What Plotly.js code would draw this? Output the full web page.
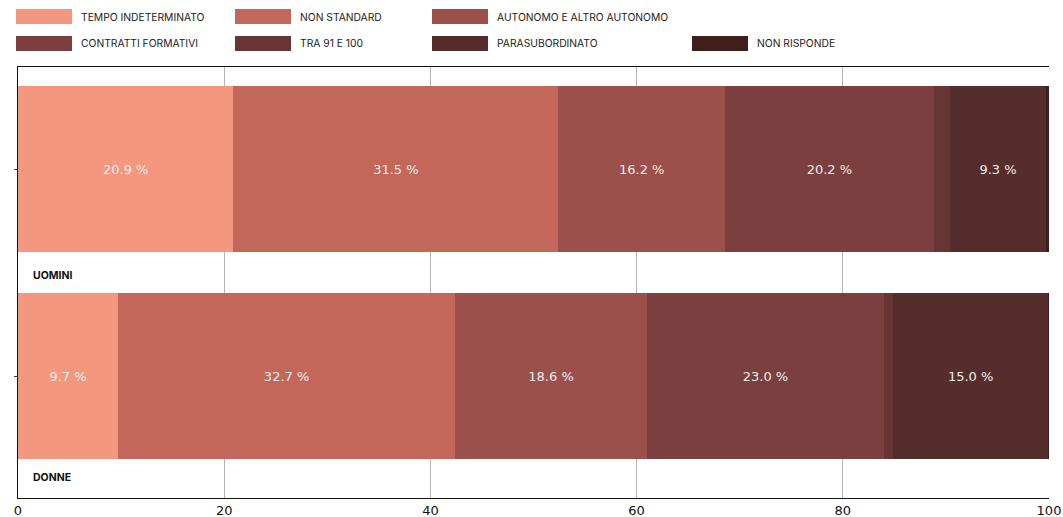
<!DOCTYPE html>
<html>
<head>
<meta charset="utf-8">
<script src="https://cdn.plot.ly/plotly-3.0.1.min.js"></script>
<style>html,body{margin:0;padding:0;background:#fff;}#chart{width:1063px;height:517px;}</style>
</head>
<body>
<div id="chart"></div>
<script>
// ---- data ----
var categories = ['UOMINI', 'DONNE'];
var seriesNames = ['TEMPO INDETERMINATO', 'NON STANDARD', 'AUTONOMO E ALTRO AUTONOMO',
  'CONTRATTI FORMATIVI', 'TRA 91 E 100', 'PARASUBORDINATO', 'NON RISPONDE'];
var tempoIndeterminato = [20.9, 9.7];
var nonStandard = [31.5, 32.7];
var autonomo = [16.2, 18.6];
var contrattiFormativi = [20.2, 23.0];
var tra91e100 = [1.6, 0.9];
var parasubordinato = [9.3, 15.0];
var nonRisponde = [0.3, 0.1];
var xTicks = [0, 20, 40, 60, 80, 100];

// ---- styles ----
var colors = ['#f3987f', '#c3675b', '#9b504c', '#7b3f3f', '#683535', '#552d2c', '#3e1f1b'];
var showLabel = [true, true, true, true, false, true, false];
var seriesValues = [tempoIndeterminato, nonStandard, autonomo, contrattiFormativi, tra91e100, parasubordinato, nonRisponde];

var W = 1063, H = 517;
var M = {l: 18, r: 14, t: 67, b: 19};
var pw = W - M.l - M.r, ph = H - M.t - M.b;
function px2x(px) { return (px - M.l) / pw; }
function py2y(py) { return (H - M.b - py) / ph; }

var traces = seriesNames.map(function (name, i) {
  return {
    type: 'bar',
    orientation: 'h',
    name: name,
    y: categories,
    x: seriesValues[i],
    width: 0.8,
    marker: {color: colors[i], line: {width: 0}},
    texttemplate: '%{x:.1f} %',
    textposition: showLabel[i] ? 'inside' : 'none',
    insidetextanchor: 'middle',
    textangle: 0,
    constraintext: 'none',
    insidetextfont: {family: 'DejaVu Sans', size: 13, color: '#f4ecea'},
    showlegend: false,
    hoverinfo: 'x+name'
  };
});

// custom legend (wide swatches)
var legendPos = [[16, 9], [235, 9], [432, 9], [16, 36], [235, 36], [432, 36], [692, 36]];
var shapes = [];
var annotations = [];
seriesNames.forEach(function (name, i) {
  var p = legendPos[i];
  shapes.push({
    type: 'rect', xref: 'paper', yref: 'paper',
    x0: px2x(p[0]), x1: px2x(p[0] + 56), y0: py2y(p[1] + 15), y1: py2y(p[1]),
    fillcolor: colors[i], line: {width: 0}
  });
  annotations.push({
    xref: 'paper', yref: 'paper', x: px2x(p[0] + 63), y: py2y(p[1] + 7.5),
    xanchor: 'left', yanchor: 'middle', showarrow: false,
    text: name, font: {family: 'Inter', size: 10.3, color: '#222'}
  });
});
// category labels below each bar
var labelOffset = [0.515, 0.49];
categories.forEach(function (c, i) {
  annotations.push({
    xref: 'paper', yref: 'y', x: px2x(31), y: i + labelOffset[i],
    xanchor: 'left', yanchor: 'middle', showarrow: false,
    text: '<b>' + c + '</b>', font: {family: 'Inter', size: 10.5, color: '#111'}
  });
});

var layout = {
  width: W, height: H,
  margin: M,
  barmode: 'stack',
  paper_bgcolor: '#fff', plot_bgcolor: '#fff',
  showlegend: false,
  xaxis: {
    range: [0, 100], tickvals: xTicks, ticktext: xTicks.map(String),
    showgrid: true, gridcolor: '#b3b3b3', gridwidth: 1,
    zeroline: false, showline: true, linecolor: '#111', linewidth: 1.3, mirror: true,
    ticks: '', tickfont: {family: 'DejaVu Sans', size: 13, color: '#111'},
    fixedrange: true
  },
  yaxis: {
    type: 'category', categoryarray: categories,
    range: [1.589, -0.493],
    showgrid: false, zeroline: false, showline: true, linecolor: '#111', linewidth: 1.3,
    ticks: 'outside', ticklen: 3, tickcolor: '#444', showticklabels: false,
    fixedrange: true
  },
  shapes: shapes,
  annotations: annotations
};

Plotly.newPlot('chart', traces, layout, {displayModeBar: false, staticPlot: true});
</script>
</body>
</html>
